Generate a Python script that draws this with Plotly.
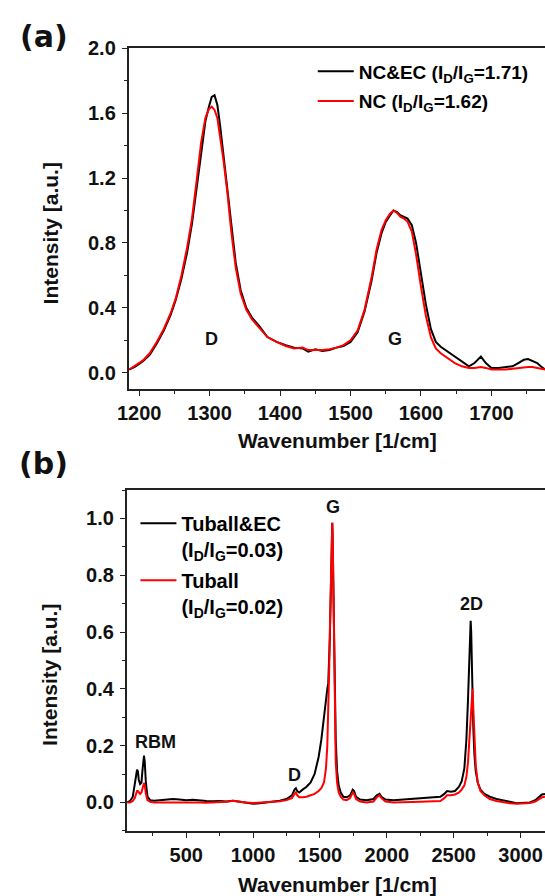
import plotly.graph_objects as go

# ---------------- Panel (a) data ----------------
wn_a = [1186, 1195, 1205, 1215, 1225, 1235, 1245, 1252, 1260, 1268, 1275, 1282, 1288, 1294, 1299,
        1303, 1307, 1311, 1315, 1320, 1325, 1331, 1337, 1344, 1352, 1360, 1370, 1382, 1395, 1408,
        1420, 1432, 1440, 1450, 1460, 1470, 1480, 1490, 1500, 1510, 1520, 1530, 1537, 1544, 1550,
        1556, 1561, 1566, 1571, 1576, 1581, 1587, 1593, 1600, 1607, 1614, 1621, 1628, 1638, 1648,
        1658, 1668, 1676, 1685, 1692, 1700, 1710, 1720, 1730, 1738, 1746, 1752, 1758, 1765, 1770, 1776]
nc_ec = [0.02, 0.04, 0.07, 0.11, 0.18, 0.26, 0.36, 0.45, 0.58, 0.74, 0.92, 1.15, 1.38, 1.55, 1.64,
         1.70, 1.71, 1.65, 1.52, 1.33, 1.16, 0.90, 0.68, 0.51, 0.40, 0.34, 0.29, 0.22, 0.19, 0.17,
         0.155, 0.15, 0.13, 0.145, 0.135, 0.14, 0.155, 0.165, 0.19, 0.25, 0.38, 0.57, 0.74, 0.86, 0.93,
         0.97, 1.00, 0.99, 0.97, 0.96, 0.95, 0.91, 0.80, 0.61, 0.42, 0.27, 0.19, 0.16, 0.13, 0.10,
         0.07, 0.04, 0.06, 0.10, 0.06, 0.03, 0.03, 0.035, 0.04, 0.06, 0.08, 0.085, 0.075, 0.06, 0.04, 0.02]
nc = [0.02, 0.045, 0.075, 0.12, 0.19, 0.27, 0.37, 0.46, 0.60, 0.77, 0.95, 1.20, 1.42, 1.57, 1.625,
      1.64, 1.62, 1.57, 1.46, 1.30, 1.12, 0.86, 0.65, 0.49, 0.39, 0.33, 0.28, 0.22, 0.19, 0.165,
      0.15, 0.155, 0.14, 0.14, 0.14, 0.145, 0.155, 0.17, 0.20, 0.26, 0.39, 0.59, 0.76, 0.88, 0.94,
      0.98, 1.00, 0.985, 0.96, 0.95, 0.93, 0.87, 0.73, 0.53, 0.35, 0.22, 0.15, 0.12, 0.09, 0.06,
      0.04, 0.03, 0.03, 0.035, 0.03, 0.02, 0.02, 0.02, 0.025, 0.03, 0.035, 0.035, 0.035, 0.03, 0.025, 0.02]

# ---------------- Panel (b) data ----------------
wn_b = [60, 80, 100, 115, 125, 132, 138, 145, 155, 165, 172, 178, 184, 190, 198, 210, 230, 260, 300,
        350, 400, 450, 500, 550, 600, 650, 700, 750, 800, 850, 900, 950, 1000, 1050, 1100, 1150, 1200,
        1250, 1290, 1310, 1320, 1330, 1345, 1370, 1400, 1430, 1460, 1490, 1510, 1530, 1545, 1555, 1562,
        1568, 1574, 1580, 1585, 1589, 1592, 1595, 1599, 1604, 1610, 1618, 1628, 1640, 1655, 1675, 1700,
        1725, 1745, 1755, 1770, 1800, 1850, 1900, 1925, 1945, 1960, 1990, 2050, 2100, 2150, 2200, 2250,
        2300, 2350, 2400, 2430, 2450, 2480, 2510, 2540, 2560, 2580, 2595, 2607, 2615, 2622, 2627, 2631,
        2636, 2641, 2647, 2655, 2665, 2680, 2700, 2730, 2770, 2820, 2870, 2920, 2970, 3020, 3070, 3110,
        3140, 3160, 3183]
tuball_ec = [0.0, 0.005, 0.02, 0.06, 0.10, 0.115, 0.11, 0.08, 0.065, 0.07, 0.11, 0.15, 0.165, 0.14, 0.07,
             0.02, 0.008, 0.006, 0.008, 0.01, 0.012, 0.01, 0.008, 0.009, 0.006, 0.005, 0.004, 0.005, 0.003,
             0.006, 0.002, -0.002, -0.005, -0.003, 0.0, 0.002, 0.006, 0.012, 0.025, 0.045, 0.05, 0.04,
             0.035, 0.045, 0.055, 0.07, 0.10, 0.16, 0.22, 0.30, 0.37, 0.40, 0.42, 0.48, 0.58, 0.72, 0.86,
             0.96, 0.985, 0.92, 0.78, 0.60, 0.38, 0.22, 0.11, 0.06, 0.035, 0.02, 0.018, 0.025, 0.045, 0.04,
             0.02, 0.01, 0.008, 0.012, 0.025, 0.03, 0.02, 0.01, 0.008, 0.01, 0.012, 0.013, 0.015, 0.016,
             0.018, 0.02, 0.03, 0.04, 0.038, 0.04, 0.055, 0.075, 0.12, 0.22, 0.36, 0.50, 0.60, 0.64, 0.60,
             0.48, 0.36, 0.26, 0.17, 0.11, 0.07, 0.045, 0.03, 0.02, 0.012, 0.006, 0.002, -0.003, -0.002,
             0.0, 0.008, 0.02, 0.028, 0.03]
tuball = [0.0, 0.0, 0.005, 0.015, 0.03, 0.04, 0.04, 0.035, 0.03, 0.035, 0.05, 0.065, 0.068, 0.06, 0.03,
          0.008, 0.002, 0.0, 0.0, 0.0, 0.002, 0.0, 0.0, 0.001, 0.0, -0.001, 0.0, 0.001, 0.002,
          0.006, 0.002, 0.0, -0.002, -0.001, 0.0, 0.001, 0.004, 0.008, 0.015, 0.03, 0.035, 0.025,
          0.018, 0.018, 0.02, 0.025, 0.03, 0.04, 0.05, 0.07, 0.12, 0.20, 0.30, 0.45, 0.60, 0.78, 0.90,
          0.97, 0.985, 0.95, 0.80, 0.55, 0.30, 0.14, 0.07, 0.035, 0.02, 0.01, 0.008, 0.015, 0.035, 0.03,
          0.012, 0.003, 0.0, 0.003, 0.018, 0.025, 0.015, 0.003, 0.0, 0.0, 0.001, 0.002, 0.002, 0.003,
          0.004, 0.005, 0.015, 0.025, 0.025, 0.028, 0.035, 0.045, 0.06, 0.09, 0.14, 0.20, 0.27, 0.32, 0.36,
          0.39, 0.40, 0.33, 0.22, 0.13, 0.07, 0.04, 0.025, 0.012, 0.005, 0.0, -0.003, -0.005, -0.004,
          -0.002, 0.003, 0.012, 0.018, 0.02]

# labels
peak_labels_a = [("D", 1303, 0.21), ("G", 1563, 0.207)]
peak_labels_b = [("G", 1594, 1.04), ("2D", 2631, 0.697), ("RBM", 269, 0.2125), ("D", 1306, 0.097)]

W, H = 545, 896
FONT = "Liberation Sans, Arial, sans-serif"
AX = "#222222"

fig = go.Figure()
fig.add_trace(go.Scatter(x=wn_a, y=nc_ec, mode="lines", line=dict(color="#000000", width=2),
                         name="<b>NC&amp;EC (I<sub>D</sub>/I<sub>G</sub>=1.71)</b>",
                         xaxis="x", yaxis="y", legend="legend", legendgroup="a1"))
fig.add_trace(go.Scatter(x=wn_a, y=nc, mode="lines", line=dict(color="#ff0000", width=2),
                         name="<b>NC (I<sub>D</sub>/I<sub>G</sub>=1.62)</b>",
                         xaxis="x", yaxis="y", legend="legend", legendgroup="a2"))
fig.add_trace(go.Scatter(x=wn_b, y=tuball_ec, mode="lines", line=dict(color="#000000", width=2),
                         name="<b>Tuball&amp;EC<br>(I<sub>D</sub>/I<sub>G</sub>=0.03)</b>",
                         xaxis="x2", yaxis="y2", legend="legend2", legendgroup="b1"))
fig.add_trace(go.Scatter(x=wn_b, y=tuball, mode="lines", line=dict(color="#ff0000", width=2),
                         name="<b>Tuball<br>(I<sub>D</sub>/I<sub>G</sub>=0.02)</b>",
                         xaxis="x2", yaxis="y2", legend="legend2", legendgroup="b2"))

def axis_common():
    return dict(showline=True, linecolor=AX, linewidth=1.5, ticks="outside", ticklen=5,
                tickwidth=1.3, tickcolor=AX, showgrid=False, zeroline=False,
                tickfont=dict(family=FONT, size=20, color="#111111", weight="bold"))

xa = axis_common()
xa.update(domain=[120 / W, 1], range=[1185, 1776], dtick=100, tick0=0, anchor="y", mirror=True,
          minor=dict(dtick=50, ticks="outside", ticklen=3, tickcolor=AX, tickwidth=1.2))
ya = axis_common()
ya.update(domain=[1 - 382.7 / H, 1 - 37.7 / H], range=[-0.1, 2.0], dtick=0.4, tick0=0,
          tickformat=".1f", anchor="x", ticklabelstandoff=2,
          minor=dict(dtick=0.2, ticks="outside", ticklen=3, tickcolor=AX, tickwidth=1.2))
xb = axis_common()
xb.update(domain=[118 / W, 1], range=[54, 3183], dtick=500, tick0=0, anchor="y2", mirror=True,
          minor=dict(dtick=250, ticks="outside", ticklen=3, tickcolor=AX, tickwidth=1.2))
yb = axis_common()
yb.update(domain=[1 - 830 / H, 1 - 485 / H], range=[-0.1, 1.1], dtick=0.2, tick0=0,
          tickformat=".1f", anchor="x2", ticklabelstandoff=2,
          minor=dict(dtick=0.1, ticks="outside", ticklen=3, tickcolor=AX, tickwidth=1.2))

annotations = []
for txt, x, y in peak_labels_a:
    annotations.append(dict(text="<b>%s</b>" % txt, x=x, y=y, xref="x", yref="y", showarrow=False,
                            font=dict(family=FONT, size=18, color="#111111")))
for txt, x, y in peak_labels_b:
    annotations.append(dict(text="<b>%s</b>" % txt, x=x, y=y, xref="x2", yref="y2", showarrow=False,
                            font=dict(family=FONT, size=18, color="#111111")))

title_font = dict(family=FONT, size=21, color="#111111")
annotations += [
    dict(text="<b>Wavenumber [1/cm]</b>", x=333 / W, y=1 - 435 / H, xref="paper", yref="paper",
         showarrow=False, font=title_font, xanchor="center", yanchor="middle"),
    dict(text="<b>Wavenumber [1/cm]</b>", x=333 / W, y=1 - 884 / H, xref="paper", yref="paper",
         showarrow=False, font=title_font, xanchor="center", yanchor="middle"),
    dict(text="<b>Intensity [a.u.]</b>", x=40 / W, y=1 - 225 / H, xref="paper", yref="paper",
         showarrow=False, font=title_font, textangle=-90, xanchor="center", yanchor="middle"),
    dict(text="<b>Intensity [a.u.]</b>", x=40 / W, y=1 - 672 / H, xref="paper", yref="paper",
         showarrow=False, font=title_font, textangle=-90, xanchor="center", yanchor="middle"),
    dict(text="<b>(a)</b>", x=34 / W, y=1 - 26 / H, xref="paper", yref="paper", showarrow=False,
         font=dict(family="DejaVu Sans", size=30, color="#111111"), xanchor="center", yanchor="middle"),
    dict(text="<b>(b)</b>", x=33 / W, y=1 - 458 / H, xref="paper", yref="paper", showarrow=False,
         font=dict(family="DejaVu Sans", size=30, color="#111111"), xanchor="center", yanchor="middle"),
]

legend_font = dict(family=FONT, size=19, color="#000000")
fig.update_layout(
    width=W, height=H,
    margin=dict(l=0, r=0, t=0, b=0),
    paper_bgcolor="white", plot_bgcolor="white",
    xaxis=xa, yaxis=ya, xaxis2=xb, yaxis2=yb,
    annotations=annotations,
    showlegend=True,
    legend=dict(x=308 / W, y=1 - 42 / H, xanchor="left", yanchor="top", bgcolor="rgba(0,0,0,0)",
                font=legend_font, traceorder="grouped", tracegroupgap=2, itemwidth=36),
    legend2=dict(x=127 / W, y=1 - 499 / H, xanchor="left", yanchor="top", bgcolor="rgba(0,0,0,0)",
                 font=dict(family=FONT, size=20, color="#000000"), traceorder="grouped",
                 tracegroupgap=2, valign="top", itemwidth=36),
)

fig.write_html("out.html")
